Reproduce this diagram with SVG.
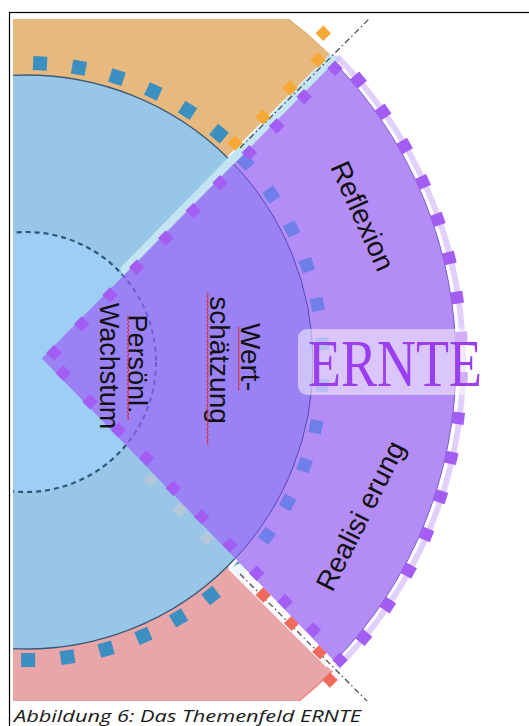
<svg xmlns="http://www.w3.org/2000/svg" xmlns:xlink="http://www.w3.org/1999/xlink" width="529" height="726" viewBox="0 0 529 726">
<defs>
<style>
.lbl{font-family:"Liberation Sans",Arial,sans-serif;font-size:28px;fill:#111;text-anchor:middle}
.squig{fill:none;stroke:#e02828;stroke-width:1}
.bsq{fill:#3b8fc1}
.bpsq{fill:#6f7fe9}
.psq{fill:#a45df2}
.osq{fill:#f6a936}
.rsq{fill:#f26a5c}
.gsq{fill:#b3c7d9}
</style>
<clipPath id="img"><rect x="13" y="19" width="516" height="682"/></clipPath>
<clipPath id="purpleClip"><path d="M42,358.2 L334.3,62.3 A430,430 0 0 1 334.7,661.4 Z"/></clipPath>
<rect id="sq14" x="-7" y="-7" width="14" height="14"/>
<rect id="sq13" x="-6.5" y="-6.5" width="13" height="13"/>
<rect id="sq12" x="-6" y="-6" width="12" height="12"/>
<rect id="dsq" x="-5.5" y="-5.5" width="11" height="11" transform="rotate(45)"/>
</defs>
<rect width="529" height="726" fill="#fff"/>
<g clip-path="url(#img)">
  <g id="orange-sector">
    <path d="M24,360 L-406,362 A432,432 0 0 1 329.5,54.5 Z" fill="#e7b97e"/>
    <path d="M-406,362 A432,432 0 0 1 329.5,54.5" fill="none" stroke="#dca560" stroke-width="1"/>
  </g>
  <g id="red-sector">
    <path d="M24,363 L332.3,671.3 A436,436 0 0 1 -410,362 Z" fill="#e8a6a8"/>
    <path d="M332.3,671.3 A436,436 0 0 1 -410,362" fill="none" stroke="#ef8585" stroke-width="1.5"/>
  </g>
  <g id="blue-circle">
    <circle cx="26" cy="362" r="287" fill="#98c6e6" stroke="#3a5a7a" stroke-width="1.3"/>
    <g transform="translate(26 362)">
      <use xlink:href="#sq14" class="bsq" transform="rotate(-87.3) translate(299 0)"/>
      <use xlink:href="#sq14" class="bsq" transform="rotate(-79.8) translate(299 0)"/>
      <use xlink:href="#sq14" class="bsq" transform="rotate(-72.3) translate(299 0)"/>
      <use xlink:href="#sq14" class="bsq" transform="rotate(-64.8) translate(299 0)"/>
      <use xlink:href="#sq14" class="bsq" transform="rotate(-57.3) translate(299 0)"/>
      <use xlink:href="#sq14" class="bsq" transform="rotate(-49.8) translate(299 0)"/>
      <use xlink:href="#sq14" class="bsq" transform="rotate(89.6) translate(298 0)"/>
      <use xlink:href="#sq14" class="bsq" transform="rotate(82) translate(298 0)"/>
      <use xlink:href="#sq14" class="bsq" transform="rotate(74.4) translate(298 0)"/>
      <use xlink:href="#sq14" class="bsq" transform="rotate(66.8) translate(298 0)"/>
      <use xlink:href="#sq14" class="bsq" transform="rotate(59.2) translate(298 0)"/>
      <use xlink:href="#sq14" class="bsq" transform="rotate(51.6) translate(298 0)"/>
      <use xlink:href="#sq14" class="bsq" transform="rotate(44) translate(298 0)"/>
    </g>
  </g>
  <g id="inner-circle">
    <circle cx="26" cy="362" r="130" fill="#9dcff6" stroke="#2f5578" stroke-width="2.2" stroke-dasharray="5 4"/>
  </g>
  <g id="gaps">
    <polygon points="120,268 330,54 342,58 124,276" fill="#c3e4f3"/>
    <polygon points="228,569 326,667 345,662 244,561" fill="#fff" fill-opacity="0.9"/>
  </g>
  <g id="connectors" fill="none" stroke="#444" stroke-width="1.2" stroke-dasharray="6 3 1.5 3">
    <path d="M240,148 L385,3"/>
    <path d="M240,574 L380,714"/>
  </g>
  <g id="orange-markers">
    <use xlink:href="#dsq" class="osq" x="235" y="143"/>
    <use xlink:href="#dsq" class="osq" x="263" y="117"/>
    <use xlink:href="#dsq" class="osq" x="290" y="88"/>
    <use xlink:href="#dsq" class="osq" x="318" y="60"/>
    <use xlink:href="#dsq" class="osq" x="323.3" y="33.3"/>
  </g>
  <g id="red-markers">
    <use xlink:href="#dsq" class="rsq" x="263.3" y="595"/>
    <use xlink:href="#dsq" class="rsq" x="291.7" y="623.3"/>
    <use xlink:href="#dsq" class="rsq" x="320" y="651.7"/>
    <use xlink:href="#dsq" class="rsq" x="330" y="680"/>
  </g>
  <g id="gray-markers">
    <use xlink:href="#dsq" class="gsq" x="150" y="480"/>
    <use xlink:href="#dsq" class="gsq" x="180" y="510"/>
    <use xlink:href="#dsq" class="gsq" x="206.7" y="538.3"/>
  </g>
  <g id="purple-sector">
    <path d="M337.5,57 A433,433 0 0 1 337.5,667" fill="none" stroke="#cdb0f8" stroke-width="6" stroke-opacity="0.6"/>
    <path d="M42,358.2 L334.3,62.3 A430,430 0 0 1 334.7,661.4 Z" fill="#b48cf6"/>
    <path d="M42,358.2 L233.8,164 A287,287 0 0 1 235.3,558.4 Z" fill="#9a82f5"/>
    <path d="M334.3,62.3 A430,430 0 0 1 334.7,661.4" fill="none" stroke="#7a5ccc" stroke-width="1"/>
    <path d="M233.8,164 A287,287 0 0 1 235.3,558.4" fill="none" stroke="#5549b5" stroke-width="1"/>
    <circle cx="26" cy="362" r="130" fill="none" stroke="#6c5fd3" stroke-width="2" stroke-dasharray="5 4" clip-path="url(#purpleClip)"/>
    <g transform="translate(26 362)">
      <use xlink:href="#sq13" class="bpsq" transform="rotate(-42.3) translate(297 0)"/>
      <use xlink:href="#sq13" class="bpsq" transform="rotate(-34.3) translate(297 0)"/>
      <use xlink:href="#sq13" class="bpsq" transform="rotate(-26.6) translate(297 0)"/>
      <use xlink:href="#sq13" class="bpsq" transform="rotate(-19) translate(297 0)"/>
      <use xlink:href="#sq13" class="bpsq" transform="rotate(-11.2) translate(297 0)"/>
      <use xlink:href="#sq13" class="bpsq" transform="rotate(-3.5) translate(297 0)"/>
      <use xlink:href="#sq13" class="bpsq" transform="rotate(4.5) translate(297 0)"/>
      <use xlink:href="#sq13" class="bpsq" transform="rotate(12.6) translate(297 0)"/>
      <use xlink:href="#sq13" class="bpsq" transform="rotate(20.3) translate(297 0)"/>
      <use xlink:href="#sq13" class="bpsq" transform="rotate(28.2) translate(297 0)"/>
      <use xlink:href="#sq13" class="bpsq" transform="rotate(35.8) translate(297 0)"/>
      <use xlink:href="#sq12" class="psq" transform="rotate(-40.3) translate(436 0)"/>
      <use xlink:href="#sq12" class="psq" transform="rotate(-35) translate(436 0)"/>
      <use xlink:href="#sq12" class="psq" transform="rotate(-29.7) translate(436 0)"/>
      <use xlink:href="#sq12" class="psq" transform="rotate(-24.4) translate(436 0)"/>
      <use xlink:href="#sq12" class="psq" transform="rotate(-19.1) translate(436 0)"/>
      <use xlink:href="#sq12" class="psq" transform="rotate(-13.8) translate(436 0)"/>
      <use xlink:href="#sq12" class="psq" transform="rotate(-8.5) translate(436 0)"/>
      <use xlink:href="#sq12" class="psq" transform="rotate(-3.2) translate(436 0)"/>
      <use xlink:href="#sq12" class="psq" transform="rotate(2.1) translate(436 0)"/>
      <use xlink:href="#sq12" class="psq" transform="rotate(7.4) translate(436 0)"/>
      <use xlink:href="#sq12" class="psq" transform="rotate(12.7) translate(436 0)"/>
      <use xlink:href="#sq12" class="psq" transform="rotate(18) translate(436 0)"/>
      <use xlink:href="#sq12" class="psq" transform="rotate(23.3) translate(436 0)"/>
      <use xlink:href="#sq12" class="psq" transform="rotate(28.6) translate(436 0)"/>
      <use xlink:href="#sq12" class="psq" transform="rotate(33.9) translate(436 0)"/>
      <use xlink:href="#sq12" class="psq" transform="rotate(39.2) translate(436 0)"/>
    </g>
    <g id="purple-edge-markers">
      <use xlink:href="#dsq" class="psq" x="54" y="352.7"/>
      <use xlink:href="#dsq" class="psq" x="81.7" y="324"/>
      <use xlink:href="#dsq" class="psq" x="110" y="295"/>
      <use xlink:href="#dsq" class="psq" x="136.7" y="267.3"/>
      <use xlink:href="#dsq" class="psq" x="165.7" y="238.3"/>
      <use xlink:href="#dsq" class="psq" x="193.3" y="210.7"/>
      <use xlink:href="#dsq" class="psq" x="220" y="182.7"/>
      <use xlink:href="#dsq" class="psq" x="249.3" y="152.7"/>
      <use xlink:href="#dsq" class="psq" x="276.7" y="126"/>
      <use xlink:href="#dsq" class="psq" x="304" y="96.7"/>
      <use xlink:href="#dsq" class="psq" x="335" y="68.3"/>
      <use xlink:href="#dsq" class="psq" x="63.3" y="373.3"/>
      <use xlink:href="#dsq" class="psq" x="90" y="401.7"/>
      <use xlink:href="#dsq" class="psq" x="118.3" y="430"/>
      <use xlink:href="#dsq" class="psq" x="146.7" y="458.3"/>
      <use xlink:href="#dsq" class="psq" x="173.3" y="488.3"/>
      <use xlink:href="#dsq" class="psq" x="201.7" y="516.7"/>
      <use xlink:href="#dsq" class="psq" x="230" y="545"/>
      <use xlink:href="#dsq" class="psq" x="256.7" y="573.3"/>
      <use xlink:href="#dsq" class="psq" x="285" y="601.7"/>
      <use xlink:href="#dsq" class="psq" x="313.3" y="630"/>
      <use xlink:href="#dsq" class="psq" x="340" y="660"/>
    </g>
  </g>
  <g id="label-persoenl">
    <text class="lbl" style="font-size:27px" transform="translate(128 364) rotate(90)">Persönl.</text>
    <text class="lbl" style="font-size:27px" transform="translate(100 366) rotate(90)">Wachstum</text>
    <path class="squig" d="M127.5 316 l1.2 2 -1.2 2 1.2 2 -1.2 2 1.2 2 -1.2 2 1.2 2 -1.2 2 1.2 2 -1.2 2 1.2 2 -1.2 2 1.2 2 -1.2 2 1.2 2 -1.2 2 1.2 2 -1.2 2 1.2 2 -1.2 2 1.2 2 -1.2 2 1.2 2 -1.2 2 1.2 2 -1.2 2 1.2 2 -1.2 2 1.2 2 -1.2 2 1.2 2 -1.2 2 1.2 2 -1.2 2 1.2 2 -1.2 2 1.2 2 -1.2 2 1.2 2 -1.2 2 1.2 2 -1.2 2 1.2 2 -1.2 2 1.2 2 -1.2 2 1.2 2 -1.2 2 1.2 2 -1.2 2 1.2 2 -1.2 2"/>
  </g>
  <g id="label-wertschaetzung">
    <text class="lbl" transform="translate(241 357) rotate(90)">Wert-</text>
    <text class="lbl" transform="translate(210 360) rotate(90)">schätzung</text>
    <path class="squig" d="M238 327 l1.2 2 -1.2 2 1.2 2 -1.2 2 1.2 2 -1.2 2 1.2 2 -1.2 2 1.2 2 -1.2 2 1.2 2 -1.2 2 1.2 2 -1.2 2 1.2 2 -1.2 2 1.2 2 -1.2 2 1.2 2 -1.2 2 1.2 2 -1.2 2 1.2 2 -1.2 2 1.2 2 -1.2 2 1.2 2 -1.2 2 1.2 2 -1.2 2 1.2 2 -1.2 2"/>
    <path class="squig" d="M207 293 l1.2 2 -1.2 2 1.2 2 -1.2 2 1.2 2 -1.2 2 1.2 2 -1.2 2 1.2 2 -1.2 2 1.2 2 -1.2 2 1.2 2 -1.2 2 1.2 2 -1.2 2 1.2 2 -1.2 2 1.2 2 -1.2 2 1.2 2 -1.2 2 1.2 2 -1.2 2 1.2 2 -1.2 2 1.2 2 -1.2 2 1.2 2 -1.2 2 1.2 2 -1.2 2 1.2 2 -1.2 2 1.2 2 -1.2 2 1.2 2 -1.2 2 1.2 2 -1.2 2 1.2 2 -1.2 2 1.2 2 -1.2 2 1.2 2 -1.2 2 1.2 2 -1.2 2 1.2 2 -1.2 2 1.2 2 -1.2 2 1.2 2 -1.2 2 1.2 2 -1.2 2 1.2 2 -1.2 2 1.2 2 -1.2 2 1.2 2 -1.2 2 1.2 2 -1.2 2 1.2 2 -1.2 2 1.2 2 -1.2 2 1.2 2 -1.2 2 1.2 2 -1.2 2 1.2 2 -1.2 2 1.2 2 -1.2 2"/>
  </g>
  <g id="label-reflexion">
    <text class="lbl" transform="translate(354 220) rotate(65.8)">Reflexion</text>
  </g>
  <g id="label-realisierung">
    <text class="lbl" transform="translate(369 520) rotate(-63.3)">Realisi erung</text>
  </g>
  <g id="label-ERNTE">
    <rect x="298" y="329" width="194" height="66" rx="9" fill="#fff" fill-opacity="0.5"/>
    <text x="308" y="386" font-family="Liberation Serif, serif" font-size="68" fill="#9b3df0" textLength="174" lengthAdjust="spacingAndGlyphs">ERNTE</text>
  </g>
</g>
<rect x="9.5" y="12.5" width="530" height="730" fill="none" stroke="#000" stroke-width="1.2"/>
<text x="14" y="721.5" font-family="Open Sans, sans-serif" font-style="italic" font-size="17" fill="#1a1a1a" textLength="347" lengthAdjust="spacingAndGlyphs">Abbildung 6: Das Themenfeld ERNTE</text>
</svg>
